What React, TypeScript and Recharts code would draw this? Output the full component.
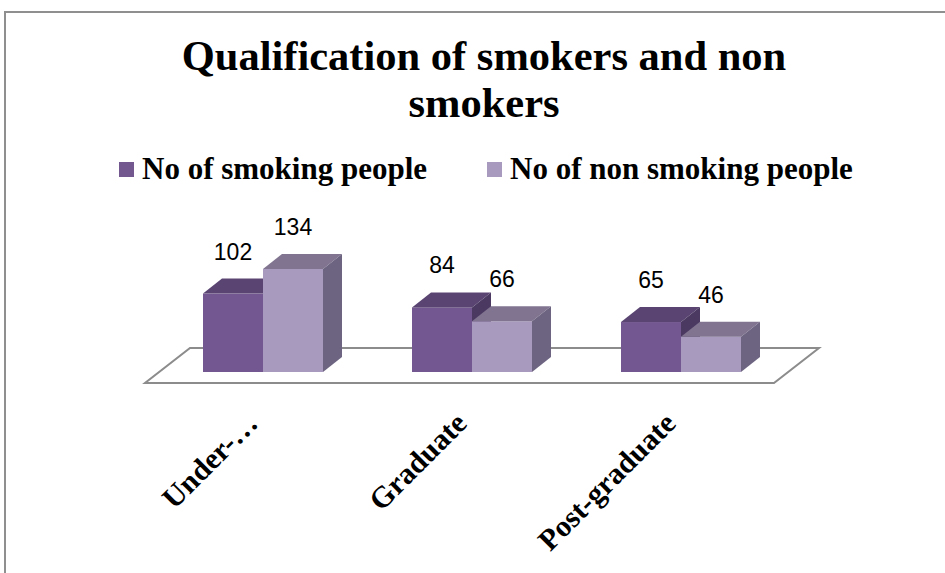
import React from 'react'
import { BarChart, Bar, XAxis, YAxis, LabelList, ReferenceLine } from 'recharts'

const categories = ['Under-…', 'Graduate', 'Post-graduate']
const smoking = [102, 84, 65]
const nonSmoking = [134, 66, 46]
const seriesNames = ['No of smoking people', 'No of non smoking people']
const titleLines = ['Qualification of smokers and non', 'smokers']

const serif = '"Liberation Serif", "DejaVu Serif", serif'
const sans = '"Liberation Sans", Arial, sans-serif'

const DX = 19
const DY = 15

const makeBox = (front: string, top: string, side: string) => (props: any) => {
  const { x, y, width, height } = props
  if (!height) return null
  const b = y + height
  return (
    <g>
      <rect x={x} y={y} width={width} height={height} fill={front} />
      <polygon
        points={`${x},${y} ${x + width},${y} ${x + width + DX},${y - DY} ${x + DX},${y - DY}`}
        fill={top}
      />
      <polygon
        points={`${x + width},${y} ${x + width + DX},${y - DY} ${x + width + DX},${b - DY} ${x + width},${b}`}
        fill={side}
      />
    </g>
  )
}

const Floor = (props: any) => {
  const { x1, x2, y1 } = props
  const pts = `${x1 - 13},${y1 + 11} ${x2 - 11},${y1 + 11} ${x2 + 34},${y1 - 24} ${x1 + 32},${y1 - 24}`
  return <polygon points={pts} fill="#fff" stroke="#8c8c8c" strokeWidth={2} />
}

const Tick = (props: any) => {
  const { x, y, payload } = props
  const ax = x - 3
  const ay = y + 53
  return (
    <text
      x={ax}
      y={ay}
      transform={`rotate(-45, ${ax}, ${ay})`}
      textAnchor="end"
      fontFamily={serif}
      fontWeight="bold"
      fontSize={30}
      fill="#000"
    >
      {payload.value}
    </text>
  )
}

const App = () => {
  const data = categories.map((name, i) => ({
    name,
    smoking: smoking[i],
    nonSmoking: nonSmoking[i],
  }))
  const swatches = ['#73578f', '#a899bf']

  return (
    <div style={{ position: 'absolute', left: 0, top: 0, width: 945, height: 573, overflow: 'hidden', background: '#fff' }}>
      <div style={{ position: 'absolute', left: 4, top: 11, width: 980, height: 620, border: '2px solid #8f8f8f' }} />
      {titleLines.map((t, i) => (
        <div
          key={t}
          style={{
            position: 'absolute', left: 0, top: 34 + i * 47, width: 968, height: 44, textAlign: 'center',
            fontFamily: serif, fontWeight: 'bold', fontSize: 42.5, lineHeight: '44px', color: '#000', whiteSpace: 'nowrap',
          }}
        >
          {t}
        </div>
      ))}
      {seriesNames.map((n, i) => (
        <div
          key={n}
          style={{
            position: 'absolute', left: i === 0 ? 119 : 487, top: 154, height: 30, display: 'flex', alignItems: 'center',
            fontFamily: serif, fontWeight: 'bold', fontSize: 31, lineHeight: '30px', color: '#000', whiteSpace: 'nowrap',
          }}
        >
          <span style={{ display: 'inline-block', width: 15, height: 15, background: swatches[i], marginRight: 8 }} />
          {n}
        </div>
      ))}
      <div style={{ position: 'absolute', left: 0, top: 0 }}>
        <BarChart
          width={945}
          height={573}
          data={data}
          margin={{ top: 249, right: 160, left: 158, bottom: 141 }}
          barSize={60}
          barGap={0}
        >
          <XAxis
            dataKey="name"
            height={60}
            axisLine={false}
            tickLine={false}
            tickSize={0}
            tickMargin={0}
            interval={0}
            tick={<Tick />}
          />
          <YAxis hide domain={[0, 160]} />
          <ReferenceLine y={0} shape={<Floor />} zIndex={0} />
          <Bar dataKey="smoking" name={seriesNames[0]} fill="#735790" shape={makeBox('#735790', '#5a4472', '#4b3962')} isAnimationActive={false}>
            <LabelList dataKey="smoking" position="top" offset={34} fill="#000" fontSize={23} fontFamily={sans} />
          </Bar>
          <Bar dataKey="nonSmoking" name={seriesNames[1]} fill="#a899bf" shape={makeBox('#a899bf', '#807490', '#6d6481')} isAnimationActive={false}>
            <LabelList dataKey="nonSmoking" position="top" offset={34} fill="#000" fontSize={23} fontFamily={sans} />
          </Bar>
        </BarChart>
      </div>
    </div>
  )
}

export default App
